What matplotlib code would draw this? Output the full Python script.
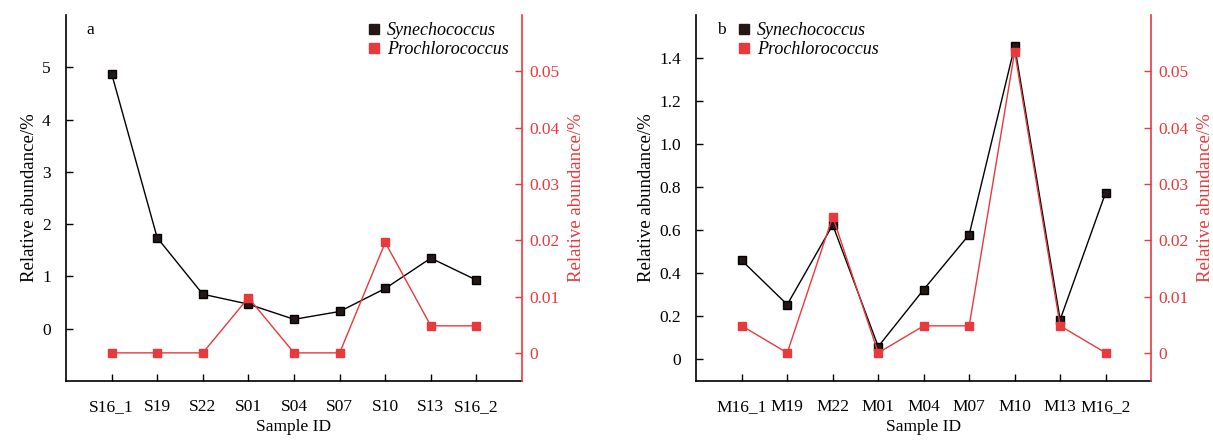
import matplotlib.pyplot as plt
import numpy as np
from matplotlib.lines import Line2D

plt.rcParams['font.family'] = ['Liberation Serif', 'DejaVu Serif']
plt.rcParams['font.size'] = 12.5

samples_a = ['S16_1', 'S19', 'S22', 'S01', 'S04', 'S07', 'S10', 'S13', 'S16_2']
syn_a = [4.88, 1.74, 0.66, 0.47, 0.18, 0.33, 0.77, 1.35, 0.93]
pro_a = [0.0, 0.0, 0.0, 0.0098, 0.0, 0.0, 0.0196, 0.0048, 0.0048]

samples_b = ['M16_1', 'M19', 'M22', 'M01', 'M04', 'M07', 'M10', 'M13', 'M16_2']
syn_b = [0.46, 0.255, 0.625, 0.06, 0.325, 0.58, 1.455, 0.185, 0.775]
pro_b = [0.0048, 0.0, 0.0242, 0.0, 0.0048, 0.0048, 0.0535, 0.0048, 0.0]

black = '#231815'
red = '#E8393C'

fig = plt.figure(figsize=(12.13, 4.41), dpi=100)


def panel(rect, samples, syn, pro, ylim, yticks, yticklabels, letter, leg_x):
    ax = fig.add_axes(rect)
    x = np.arange(len(samples))
    ax.plot(x, syn, '-s', color='black', mfc=black, mec='black', ms=5.5, lw=1, zorder=3)
    ax.set_xlim(-1, len(samples))
    ax.set_ylim(*ylim)
    ax.set_yticks(yticks)
    ax.set_yticklabels(yticklabels)
    ax.set_xticks(x)
    ax.set_xticklabels(samples)
    ax.set_xlabel('Sample ID', labelpad=3)
    ax.set_ylabel('Relative abundance/%', fontsize=13.5, labelpad=3)
    ax.tick_params(direction='in', length=5, width=1, pad=11)
    ax.tick_params(axis='x', pad=13)
    ax.spines['top'].set_visible(False)
    ax.spines['right'].set_visible(False)
    for s in ['left', 'bottom']:
        ax.spines[s].set_linewidth(1.2)

    ax2 = ax.twinx()
    ax2.plot(x, pro, '-s', color=red, mfc=red, mec=red, ms=5.5, lw=1, zorder=3)
    ax2.set_ylim(-0.005, 0.06)
    ax2.set_yticks([0, 0.01, 0.02, 0.03, 0.04, 0.05])
    ax2.set_yticklabels(['0', '0.01', '0.02', '0.03', '0.04', '0.05'])
    ax2.tick_params(direction='in', length=5, width=1, pad=5, colors=red)
    ax2.set_ylabel('Relative abundance/%', color=red, fontsize=13.5, labelpad=6)
    ax2.spines['top'].set_visible(False)
    ax2.spines['left'].set_visible(False)
    ax2.spines['bottom'].set_visible(False)
    ax2.spines['right'].set_color(red)
    ax2.spines['right'].set_linewidth(1.2)

    ax.text(0.045, 0.96, letter, transform=ax.transAxes, fontsize=12.5, va='center')

    handles = [Line2D([], [], ls='', marker='s', ms=7, color=black),
               Line2D([], [], ls='', marker='s', ms=7, color=red)]
    ax2.legend(handles, ['Synechococcus', 'Prochlorococcus'], loc='upper left',
               bbox_to_anchor=(leg_x, 1.005), frameon=False, handlelength=0.8,
               handletextpad=0.3, borderpad=0, labelspacing=0.1,
               prop={'style': 'italic', 'size': 13})
    return ax, ax2


panel([0.0544, 0.136, 0.376, 0.83], samples_a, syn_a, pro_a, (-1, 6),
      [0, 1, 2, 3, 4, 5], ['0', '1', '2', '3', '4', '5'], 'a', 0.64)
panel([0.574, 0.136, 0.375, 0.83], samples_b, syn_b, pro_b, (-0.1, 1.6),
      [0, 0.2, 0.4, 0.6, 0.8, 1.0, 1.2, 1.4],
      ['0', '0.2', '0.4', '0.6', '0.8', '1.0', '1.2', '1.4'], 'b', 0.07)

fig.savefig('out.png', dpi=100)
